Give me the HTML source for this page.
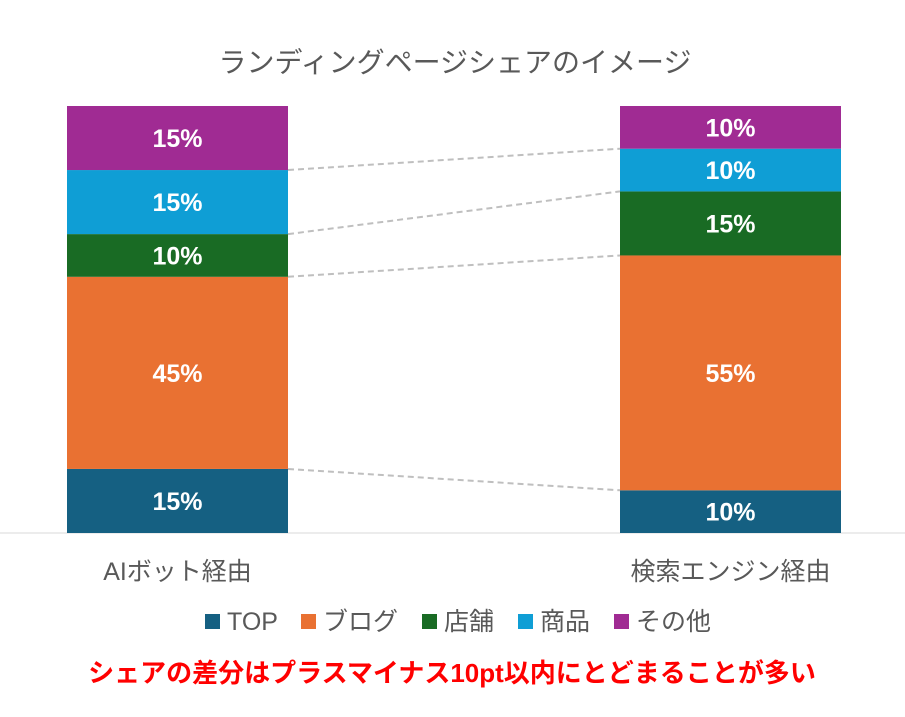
<!DOCTYPE html>
<html><head><meta charset="utf-8">
<style>
body{margin:0;background:#fff;}
svg text{font-family:"Liberation Sans","Noto Sans CJK JP",sans-serif;}
</style></head>
<body>
<svg id="chart" width="905" height="712" viewBox="0 0 905 712" xmlns="http://www.w3.org/2000/svg">
<text x="455" y="72" text-anchor="middle" font-size="28" fill="#595959">ランディングページシェアのイメージ</text>
<line x1="0" y1="533" x2="905" y2="533" stroke="#d9d9d9" stroke-width="1"/>
<g id="connectors"></g>
<g id="bars"></g>
<g id="legend"></g>
<text x="452" y="682" text-anchor="middle" font-size="26" font-weight="bold" fill="#ff0000">シェアの差分はプラスマイナス10pt以内にとどまることが多い</text>
</svg>
<script>
const categories = ["AIボット経由", "検索エンジン経由"];
const seriesNames = ["TOP", "ブログ", "店舗", "商品", "その他"];
const seriesTop = [15, 10];
const seriesBlog = [45, 55];
const seriesStore = [10, 15];
const seriesProduct = [15, 10];
const seriesOther = [15, 10];
const colors = ["#156082", "#e97132", "#196b24", "#0f9ed5", "#a02b93"];
const allSeries = [seriesTop, seriesBlog, seriesStore, seriesProduct, seriesOther];

const NS = "http://www.w3.org/2000/svg";
const plotTop = 106, plotBottom = 533;
const barX = [67, 620], barW = 221;
function yScale(v){ return plotBottom - (plotBottom - plotTop) * v / 100; }
function mk(tag, attrs, parent){ const e = document.createElementNS(NS, tag); for (const k in attrs) e.setAttribute(k, attrs[k]); parent.appendChild(e); return e; }

const barsG = document.getElementById("bars");
const connG = document.getElementById("connectors");
const bounds = [[], []];
categories.forEach((cat, ci) => {
  let cum = 0;
  allSeries.forEach((s, si) => {
    const v = s[ci];
    const y1 = yScale(cum + v), y0 = yScale(cum);
    const r = mk("rect", {x: barX[ci], y: y1, width: barW, height: y0 - y1, fill: colors[si]}, barsG);
    
    
    const t = mk("text", {x: barX[ci] + barW / 2, y: (y0 + y1) / 2 + 9, "text-anchor": "middle", "font-size": "25", "font-weight": "bold", fill: "#fff"}, barsG);
    t.textContent = v + "%";
    
    
    cum += v;
    if (si < allSeries.length - 1) bounds[ci].push(yScale(cum));
  });
  const lbl = mk("text", {x: barX[ci] + barW / 2, y: 580, "text-anchor": "middle", "font-size": "25", fill: "#595959"}, barsG);
  lbl.textContent = cat;
  
  
});
bounds[0].forEach((y, i) => {
  const l = mk("line", {x1: barX[0] + barW, y1: y, x2: barX[1], y2: bounds[1][i], stroke: "#bfbfbf", "stroke-width": "2", "stroke-dasharray": "6,4"}, connG);
  
  
});
const legG = document.getElementById("legend");
const legX = [205, 301, 422, 518, 614];
seriesNames.forEach((n, i) => {
  const g = mk("g", {}, legG);
  
  
  mk("rect", {x: legX[i], y: 614, width: 15, height: 15, fill: colors[i]}, g);
  const t = mk("text", {x: legX[i] + 22, y: 630, "font-size": "25", fill: "#595959"}, g);
  t.textContent = n;
});
</script>
</body></html>
